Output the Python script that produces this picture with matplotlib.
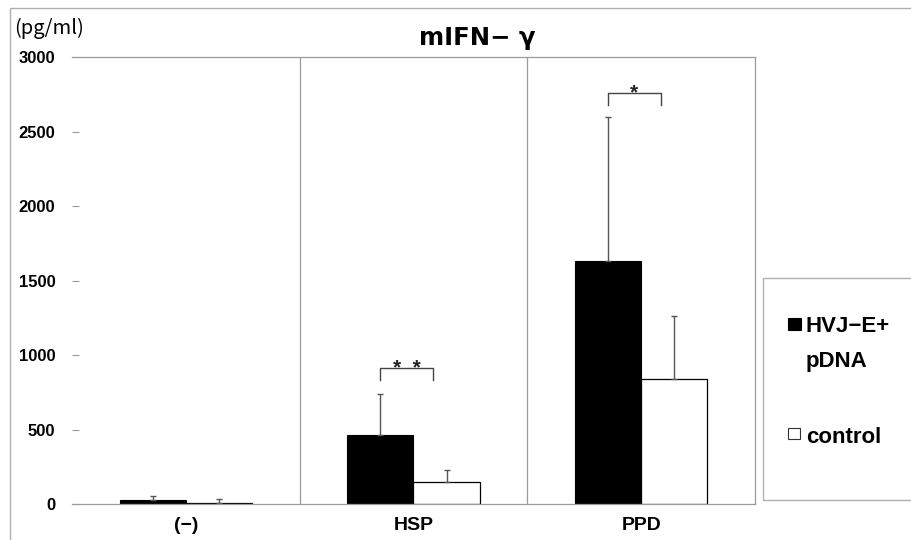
import matplotlib.pyplot as plt
from matplotlib.patches import Rectangle
import numpy as np

# data
groups = ["(−)", "HSP", "PPD"]
hvj_mean = [25, 460, 1630]
hvj_err = [30, 280, 970]
ctrl_mean = [10, 145, 840]
ctrl_err = [25, 80, 425]
yticks = [0, 500, 1000, 1500, 2000, 2500, 3000]
# significance brackets: (group index, bracket height, label)
sig = [(1, 910, "*  *"), (2, 2760, "*")]

plt.rcParams['font.family'] = ['Liberation Sans', 'DejaVu Sans']

W, H = 912, 540
fig = plt.figure(figsize=(9.12, 5.4), dpi=100)
ax = fig.add_axes([72/W, 36/H, 683/W, 447/H])

x = np.arange(len(groups))
w = 0.29
ax.bar(x - w/2, hvj_mean, w, color="black", edgecolor="black", linewidth=0.8)
ax.bar(x + w/2, ctrl_mean, w, color="white", edgecolor="black", linewidth=0.9)
ax.errorbar(x - w/2, hvj_mean, yerr=[np.zeros(3), hvj_err], fmt="none",
            ecolor="#555555", elinewidth=1, capsize=2.5, capthick=1)
ax.errorbar(x + w/2, ctrl_mean, yerr=[np.zeros(3), ctrl_err], fmt="none",
            ecolor="#555555", elinewidth=1, capsize=2.5, capthick=1)

for gi, h, lab in sig:
    x0, x1 = gi - w/2, gi + 0.085
    ax.plot([x0, x0, x1, x1], [h - 80, h, h, h - 80], color="#444444", lw=1)
    ax.text((x0 + x1) / 2, h - 35, lab, ha="center", va="baseline",
            fontsize=15, color="#222222", fontweight="bold")

for xv in [0.5, 1.5]:
    ax.axvline(xv, color="#9a9a9a", lw=0.9)

ax.set_xlim(-0.5, 2.5)
ax.set_ylim(0, 3000)
ax.set_yticks(yticks)
ax.set_yticklabels([str(v) for v in yticks], fontsize=12, fontweight="bold")
ax.set_xticks(x)
ax.set_xticklabels(groups, fontsize=14, fontweight="bold")
ax.tick_params(axis="x", length=0, pad=9)
ax.tick_params(axis="y", length=5, direction="in", color="#9a9a9a", pad=12)
ax.spines["left"].set_visible(False)
for s in ["top", "right", "bottom"]:
    ax.spines[s].set_color("#9a9a9a")
    ax.spines[s].set_linewidth(0.9)

fig.text(477/W, 1 - 38/H, "mIFN− γ", ha="center", va="center",
         fontsize=17.5, fontweight="bold", family=["DejaVu Sans"])
fig.text(14/W, 1 - 28/H, "(pg/ml)", ha="left", va="center",
         fontsize=14.5, family=["Noto Sans CJK JP", "DejaVu Sans"])

# outer frame and legend box
fig.patches.append(Rectangle((10/W, -0.1), 1.0, 1 - 8/H + 0.1,
                             transform=fig.transFigure, fill=False,
                             edgecolor="#b0b0b0", lw=1))
fig.patches.append(Rectangle((763/W, 1 - 500/H), 0.3, 222/H,
                             transform=fig.transFigure, fill=False,
                             edgecolor="#b0b0b0", lw=1))

# legend entries
fig.patches.append(Rectangle((788/W, 1 - 330/H), 13/W, 12/H,
                             transform=fig.transFigure, facecolor="black",
                             edgecolor="black", lw=0.8))
fig.patches.append(Rectangle((788/W, 1 - 439/H), 12/W, 11/H,
                             transform=fig.transFigure, facecolor="white",
                             edgecolor="#333333", lw=0.8))
legend_font = dict(fontsize=16, fontweight="bold", ha="left", va="baseline")
fig.text(806/W, 1 - 332/H, "HVJ−E+", **legend_font)
fig.text(806/W, 1 - 367/H, "pDNA", **legend_font)
fig.text(806/W, 1 - 443/H, "control", **legend_font)

fig.savefig("out.png", dpi=100)
